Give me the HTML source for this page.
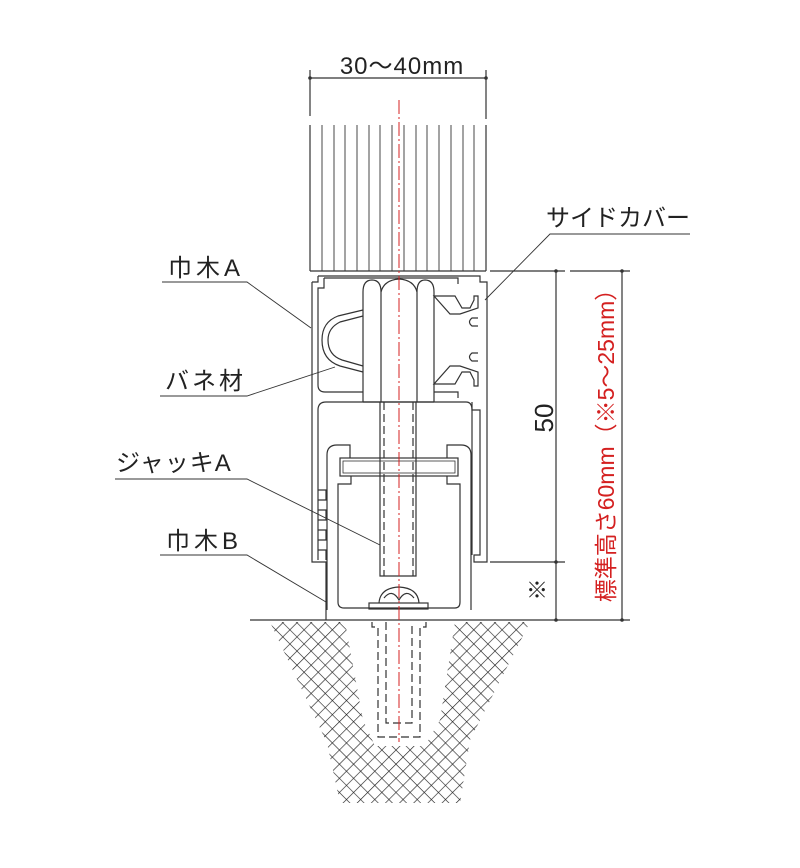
<!DOCTYPE html>
<html><head><meta charset="utf-8"><style>
html,body{margin:0;padding:0;background:#fff;}
svg{display:block;}
text{font-family:"Liberation Sans","Noto Sans CJK JP",sans-serif;}
</style></head><body>
<svg width="800" height="868" viewBox="0 0 800 868" xmlns="http://www.w3.org/2000/svg">
<defs>
<pattern id="hx" width="10" height="10" patternUnits="userSpaceOnUse" patternTransform="rotate(45)">
<path d="M0 0H10M0 0V10" stroke="#222" stroke-width="1.3"/>
</pattern>
</defs>
<g fill="none" stroke="#333" stroke-width="1.2">
<line x1="310" y1="78" x2="486" y2="78"/>
<line x1="310" y1="70" x2="310" y2="116"/>
<line x1="486" y1="70" x2="486" y2="119"/>
<line x1="310" y1="125" x2="310" y2="271"/>
<line x1="486" y1="125" x2="486" y2="271"/>
<line x1="310" y1="271" x2="486" y2="271"/>
<g stroke-width="0.9">
<line x1="322" y1="125" x2="322" y2="271"/><line x1="334" y1="125" x2="334" y2="271"/>
<line x1="345" y1="125" x2="345" y2="271"/><line x1="357" y1="125" x2="357" y2="271"/>
<line x1="369" y1="125" x2="369" y2="271"/><line x1="380" y1="125" x2="380" y2="271"/>
<line x1="392" y1="125" x2="392" y2="271"/><line x1="404" y1="125" x2="404" y2="271"/>
<line x1="416" y1="125" x2="416" y2="271"/><line x1="427" y1="125" x2="427" y2="271"/>
<line x1="439" y1="125" x2="439" y2="271"/><line x1="451" y1="125" x2="451" y2="271"/>
<line x1="463" y1="125" x2="463" y2="271"/><line x1="474" y1="125" x2="474" y2="271"/>
</g>
<path d="M318 276 H480 V282 H487 V562 H474 V555 H480 V410 H472 V402"/>
<path d="M312 282 H318 V276 M312 282 V562 H326 V620"/>
<path d="M324 278 H458 V284 M324 278 V288 H318 V385 Q318 392 325 392 H363"/>
<path d="M434 392 H458 V398"/>
<path d="M434 296 H455 L462 308 H470 L474 300 V296 L478 296 V308 L460 314 H450 Z"/>
<path d="M434 384 H455 L462 372 H470 L474 380 V386 L478 386 V372 L460 366 H450 Z"/>
<path d="M478 318 H472 Q467 322 472 326 H478"/>
<path d="M478 353 H472 Q467 357 472 361 H478"/>
<path d="M363 310 L338 316 Q322 322 322 340 Q322 360 340 366 L363 372"/>
<path d="M363 316 L340 322 Q328 328 328 340 Q328 355 342 360 L363 366"/>
<path d="M363 402 V292 Q363 280 372 280 Q381 280 381 292 V402"/>
<path d="M381 292 Q384 280 399 279 Q414 280 417 292 V402"/>
<path d="M417 292 Q417 280 425 280 Q434 280 434 292 V402"/>
<line x1="363" y1="402" x2="434" y2="402"/>
<path d="M326 402 H466 Q472 402 472 410 V555"/>
<path d="M326 402 Q318 402 318 410 V560"/>
<path d="M327 610 V455 Q327 445 337 445 H350 V458"/>
<path d="M471 610 V455 Q471 445 461 445 H447 V458"/>
<rect x="340" y="458" width="118" height="18"/>
<rect x="343" y="461" width="112" height="12" stroke-width="0.8"/>
<path d="M351 476 V484 H338 V602 Q338 608 344 608 H455 Q460 608 460 602 V484 H447 V476"/>
<path d="M318 490 H326 V500 H318 M318 510 H326 V520 H318 M318 530 H326 V540 H318 M318 550 H326 V560"/>
<path d="M380 402 V576 H416 V402"/>
<line x1="384" y1="402" x2="384" y2="576" stroke-dasharray="8 4"/>
<line x1="413" y1="402" x2="413" y2="576" stroke-dasharray="8 4"/>
<path d="M379 603 Q380 588 399 587 Q418 588 419 603"/>
<path d="M384 598 Q392 588 399 600 Q406 588 414 598"/>
<rect x="369" y="603" width="59" height="6"/>
<line x1="250" y1="620" x2="540" y2="620"/>
<g stroke-dasharray="8 4">
<path d="M372 622 V627 H378 V737 H420 V627 H426 V622"/>
<path d="M386 622 V723 H412 V622"/>
</g>
<line x1="490" y1="271" x2="565" y2="271"/>
<line x1="570" y1="271" x2="630" y2="271"/>
<line x1="490" y1="562" x2="565" y2="562"/>
<line x1="540" y1="620" x2="630" y2="620"/>
<line x1="556" y1="271" x2="556" y2="620"/>
<line x1="622" y1="271" x2="622" y2="620"/>
<path d="M690 234 H550 L485 300" stroke-width="0.9"/>
<path d="M162 282 H247 L311 328" stroke-width="0.9"/>
<path d="M160 396 H247 L335 367" stroke-width="0.9"/>
<path d="M115 479 H247 L380 545" stroke-width="0.9"/>
<path d="M160 555 H247 L326 602" stroke-width="0.9"/>
</g>
<g fill="#333">
<circle cx="310" cy="78" r="1.8"/><circle cx="486" cy="78" r="1.8"/>
<circle cx="556" cy="271" r="1.8"/><circle cx="556" cy="562" r="1.8"/><circle cx="556" cy="620" r="1.8"/>
<circle cx="622" cy="271" r="1.8"/><circle cx="622" cy="620" r="1.8"/>
</g>
<path d="M270 622 H530 L470 740 L460 803 H340 L327 743 Z M345 622 L363 720 L375 746 H425 L440 720 L455 622 Z" fill="url(#hx)" fill-rule="evenodd"/>
<line x1="399" y1="100" x2="399" y2="742" stroke="#d42020" stroke-width="1" stroke-dasharray="14 3 2 3"/>
<g fill="#222" font-size="24">
<text x="402" y="74" text-anchor="middle" letter-spacing="1">30～40mm</text>
<text x="690" y="226" text-anchor="end">サイドカバー</text>
<text x="168" y="276" letter-spacing="4">巾木A</text>
<text x="165" y="389" letter-spacing="3">バネ材</text>
<text x="116" y="471" letter-spacing="1">ジャッキA</text>
<text x="166" y="549" letter-spacing="4">巾木B</text>
<text x="537" y="598" text-anchor="middle" font-size="22">※</text>
<text transform="translate(553 418) rotate(-90)" text-anchor="middle" font-size="26">50</text>
<text transform="translate(614 440) rotate(-90)" text-anchor="middle" fill="#d42020" font-size="23">標準高さ60mm（※5～25mm）</text>
</g>
</svg>
</body></html>
